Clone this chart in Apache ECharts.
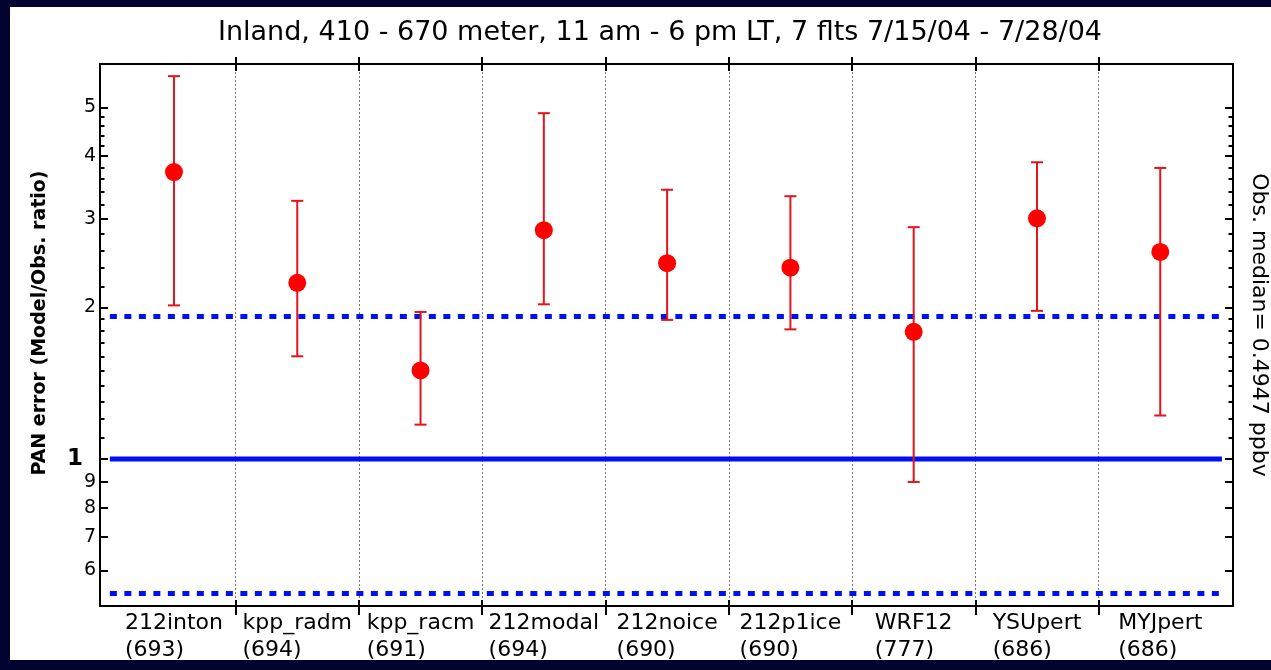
<!DOCTYPE html>
<html>
<head>
<meta charset="utf-8">
<script src="https://cdn.jsdelivr.net/npm/echarts@6/dist/echarts.min.js"></script>
<style>
  html, body { margin: 0; padding: 0; width: 1271px; height: 670px; overflow: hidden; background: #03032f; }
  #chart { position: absolute; left: 10px; top: 7px; width: 1261px; height: 653px; background: #ffffff; }
</style>
</head>
<body>
<div id="chart"></div>
<script>
// Model runs and number of matched samples
const models = ['212inton', 'kpp_radm', 'kpp_racm', '212modal', '212noice', '212p1ice', 'WRF12', 'YSUpert', 'MYJpert'];
const counts = [693, 694, 691, 694, 690, 690, 777, 686, 686];

// PAN model/observation ratio: median and spread per run
const medianRatio = [3.72, 2.24, 1.50, 2.85, 2.45, 2.40, 1.79, 3.01, 2.58];
const lowerRatio  = [2.02, 1.60, 1.17, 2.03, 1.89, 1.81, 0.90, 1.97, 1.22];
const upperRatio  = [5.77, 3.26, 1.96, 4.87, 3.43, 3.33, 2.89, 3.89, 3.79];

// Reference levels: perfect agreement and the factor band
const parityRatio = 1;
const bandRatios = [1.92, 0.54];

// Log-axis ticks
const majorTicks = [0.6, 0.7, 0.8, 0.9, 1, 2, 3, 4, 5];
const majorTickLabels = ['6', '7', '8', '9', '1', '2', '3', '4', '5'];
const minorTicks = [1.1, 1.2, 1.3, 1.4, 1.5, 1.6, 1.7, 1.8, 1.9,
                    2.2, 2.4, 2.6, 2.8, 3.2, 3.4, 3.6, 3.8,
                    4.2, 4.4, 4.6, 4.8];

const FONT = 'DejaVu Sans';
const X_MIN = -0.6, X_MAX = 8.59;
const LINE_START = -0.52, LINE_END = 8.5;

const positions = models.map((_, i) => i);
const boundaries = models.slice(1).map((_, i) => i + 0.5);

const chart = echarts.init(document.getElementById('chart'), null, { renderer: 'canvas' });

const frameLine = { show: true, onZero: false, lineStyle: { color: '#000', width: 2 } };
const tickStyle = { color: '#000', width: 2 };

const baseX = {
  type: 'value', min: X_MIN, max: X_MAX,
  axisLine: { show: false, onZero: false }, axisLabel: { show: false },
  splitLine: { show: false }
};
const baseY = {
  type: 'log', logBase: 10, min: 0.51, max: 6.1,
  axisLine: { show: false, onZero: false }, axisLabel: { show: false },
  splitLine: { show: false }, minorTick: { show: false }
};

const option = {
  animation: false,
  backgroundColor: '#ffffff',
  title: {
    text: 'Inland, 410 - 670 meter, 11 am - 6 pm LT, 7 flts 7/15/04 - 7/28/04',
    left: 650, top: 12, textAlign: 'center', padding: 0,
    textStyle: { fontFamily: FONT, fontSize: 27, fontWeight: 'normal', color: '#000' }
  },
  grid: { left: 90, right: 38, top: 57, bottom: 54, containLabel: false, outerBoundsMode: 'none' },
  xAxis: [
    Object.assign({}, baseX, {
      position: 'bottom',
      axisLine: frameLine,
      axisTick: { show: true, customValues: boundaries, length: 9, inside: false, lineStyle: tickStyle },
      splitLine: { show: true, lineStyle: { color: '#777', width: 1, type: [2, 2] } },
      axisLabel: {
        show: true, customValues: positions, margin: 4,
        formatter: v => {
          const i = Math.round(v);
          return '{a|' + models[i] + '}\n{a|(' + counts[i] + ')}';
        },
        rich: { a: { align: 'left', fontFamily: FONT, fontSize: 22, lineHeight: 27, color: '#000' } }
      }
    }),
    Object.assign({}, baseX, {
      position: 'bottom',
      axisTick: { show: true, customValues: boundaries, length: 6, inside: true, lineStyle: tickStyle }
    }),
    Object.assign({}, baseX, {
      position: 'top',
      axisLine: frameLine,
      axisTick: { show: true, customValues: boundaries, length: 7, inside: false, lineStyle: tickStyle }
    }),
    Object.assign({}, baseX, {
      position: 'top',
      axisTick: { show: true, customValues: boundaries, length: 7, inside: true, lineStyle: tickStyle }
    })
  ],
  yAxis: [
    Object.assign({}, baseY, {
      position: 'left',
      name: 'PAN error (Model/Obs. ratio)',
      nameLocation: 'middle', nameGap: 50,
      nameTextStyle: { fontFamily: FONT, fontSize: 19, fontWeight: 'bold', color: '#000', padding: [0, 0, 0, 24] },
      axisLine: frameLine,
      axisTick: { show: true, customValues: majorTicks, length: 8, inside: true, lineStyle: tickStyle },
      axisLabel: {
        show: true, customValues: majorTicks, margin: 4,
        fontFamily: FONT, fontSize: 19, color: '#000',
        formatter: v => {
          const i = majorTicks.findIndex(t => Math.abs(t - v) < 1e-6);
          const s = i >= 0 ? majorTickLabels[i] : '';
          return Math.abs(v - 1) < 1e-6 ? '{one|' + s + '}' : s;
        },
        rich: {
          one: { fontFamily: FONT, fontSize: 23, fontWeight: 'bold', color: '#000', padding: [0, 13, 0, 0] }
        }
      }
    }),
    Object.assign({}, baseY, {
      position: 'left',
      axisTick: { show: true, customValues: minorTicks, length: 4.5, inside: true, lineStyle: tickStyle }
    }),
    Object.assign({}, baseY, {
      position: 'right',
      name: 'Obs. median= 0.4947 ppbv',
      nameLocation: 'middle', nameGap: 15, nameRotate: -90,
      nameTextStyle: { fontFamily: FONT, fontSize: 22, color: '#000', padding: [0, 20, 0, 0] },
      axisLine: frameLine,
      axisTick: { show: true, customValues: majorTicks, length: 8, inside: true, lineStyle: tickStyle }
    }),
    Object.assign({}, baseY, {
      position: 'right',
      axisTick: { show: true, customValues: minorTicks, length: 4.5, inside: true, lineStyle: tickStyle }
    })
  ],
  series: [
    {
      name: 'parity', type: 'line', xAxisIndex: 0, yAxisIndex: 0,
      showSymbol: false, silent: true, z: 3,
      data: [[LINE_START, parityRatio], [LINE_END, parityRatio]],
      lineStyle: { color: '#0010f0', width: 5 }
    },
    ...bandRatios.map(r => ({
      name: 'band ' + r, type: 'line', xAxisIndex: 0, yAxisIndex: 0,
      showSymbol: false, silent: true, z: 3,
      data: [[LINE_START, r], [LINE_END, r]],
      lineStyle: { color: '#0010f0', width: 5, type: [7, 7.5], cap: 'butt' }
    })),
    {
      name: 'spread', type: 'custom', xAxisIndex: 0, yAxisIndex: 0, z: 4,
      data: positions.map(i => [i, lowerRatio[i], upperRatio[i]]),
      encode: { x: 0, y: [1, 2] },
      renderItem: (params, api) => {
        const x = api.value(0);
        const lo = api.coord([x, api.value(1)]);
        const hi = api.coord([x, api.value(2)]);
        const half = 6;
        const style = { stroke: '#e4141c', lineWidth: 2 };
        return {
          type: 'group',
          children: [
            { type: 'line', shape: { x1: lo[0], y1: lo[1], x2: hi[0], y2: hi[1] }, style },
            { type: 'line', shape: { x1: hi[0] - half, y1: hi[1], x2: hi[0] + half, y2: hi[1] }, style },
            { type: 'line', shape: { x1: lo[0] - half, y1: lo[1], x2: lo[0] + half, y2: lo[1] }, style }
          ]
        };
      }
    },
    {
      name: 'median', type: 'scatter', xAxisIndex: 0, yAxisIndex: 0, z: 5,
      symbol: 'circle', symbolSize: 18,
      itemStyle: { color: '#ff0000', opacity: 1 },
      data: positions.map(i => [i, medianRatio[i]])
    }
  ]
};

chart.setOption(option);
</script>
</body>
</html>
